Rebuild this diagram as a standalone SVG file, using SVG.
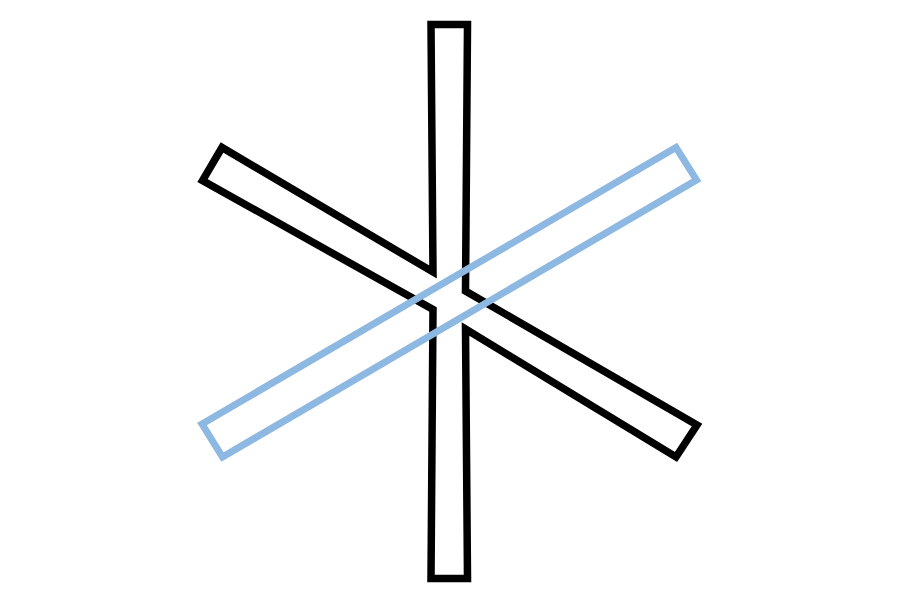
<svg xmlns="http://www.w3.org/2000/svg" width="900" height="600" viewBox="0 0 900 600">
  <style>
    .black { fill: none; stroke: #000000; stroke-width: 7.5; stroke-linejoin: miter; }
    .blue { fill: none; stroke: #8DB8E2; stroke-width: 7; stroke-linejoin: miter; }
  </style>
  <rect width="900" height="600" fill="#ffffff"/>
  <g id="black-shape">
    <polygon class="black" points="431,24.5 467.5,24.5 465.5,291 697,425 676,457 465.5,329 467.5,578.5 431,578.5 433,309.5 202.5,180.5 222,147.5 433,272"/>
  </g>
  <g id="blue-bar">
    <polygon class="blue" points="202,424 676,147.5 696.5,180 222.5,457"/>
  </g>
</svg>
